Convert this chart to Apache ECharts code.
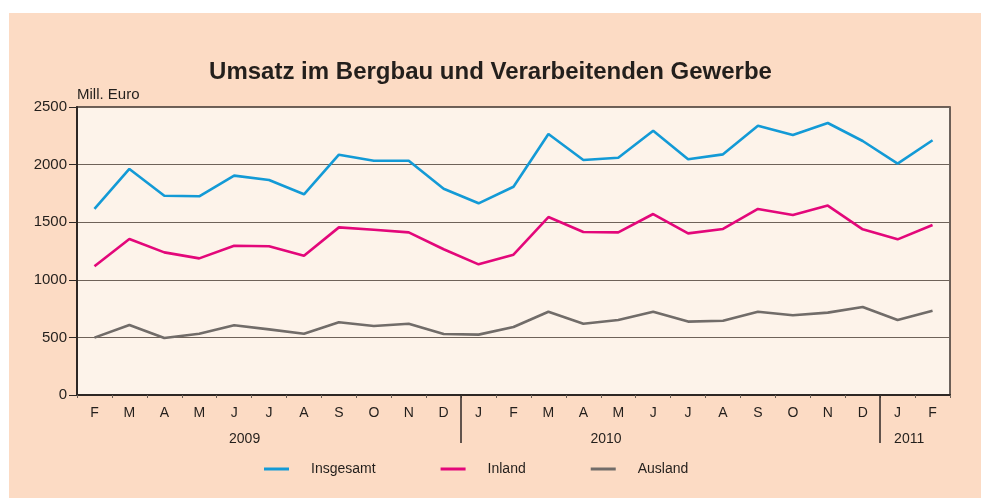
<!DOCTYPE html>
<html>
<head>
<meta charset="utf-8">
<script src="https://cdn.jsdelivr.net/npm/echarts@6/dist/echarts.min.js"></script>
<style>
  html, body { margin: 0; padding: 0; background: #fff; }
  #chart { width: 981px; height: 498px; }
</style>
</head>
<body>
<div id="chart"></div>
<script>
// Monate Feb 2009 bis Feb 2011
var months = ['F', 'M', 'A', 'M', 'J', 'J', 'A', 'S', 'O', 'N', 'D',
  'J', 'F', 'M', 'A', 'M', 'J', 'J', 'A', 'S', 'O', 'N', 'D',
  'J', 'F']
// Jahre, Lage der Beschriftung (in Monaten) und Jahreswechsel
var years = ['2009', '2010', '2011']
var yearLabelPos = [4.3, 14.65, 23.33]
var yearBreaks = [10.5, 22.5]
var yTicks = [0, 500, 1000, 1500, 2000, 2500]

// Mill. Euro
var insgesamt = [1615, 1962, 1730, 1725, 1904, 1866, 1742, 2086, 2034, 2034, 1791,
  1664, 1808, 2266, 2040, 2060, 2294, 2046, 2089, 2338, 2257, 2361, 2205,
  2008, 2211]
var inland = [1117, 1354, 1238, 1186, 1296, 1291, 1209, 1455, 1435, 1412, 1265,
  1134, 1218, 1545, 1415, 1412, 1571, 1403, 1441, 1615, 1563, 1644, 1438,
  1351, 1476]
var ausland = [498, 608, 495, 532, 605, 570, 532, 631, 599, 619, 530,
  524, 590, 723, 619, 651, 723, 637, 645, 723, 692, 715, 764,
  651, 732]

var textColor = '#231f1c'
var font = 'Liberation Sans'

var myChart = echarts.init(document.getElementById('chart'))
var option = {
  backgroundColor: 'transparent',
  textStyle: { fontFamily: font },
  graphic: [
    {
      type: 'rect',
      left: 9,
      top: 13,
      z: -10,
      shape: { width: 972, height: 485 },
      style: { fill: '#fcdbc4' },
    },
  ],
  title: {
    text: 'Umsatz im Bergbau und Verarbeitenden Gewerbe',
    left: 'center',
    top: 55,
    textStyle: {
      fontFamily: font,
      fontSize: 24,
      fontWeight: 'bold',
      color: textColor,
    },
  },
  legend: {
    left: 259,
    top: 457,
    icon: 'rect',
    itemWidth: 25,
    itemHeight: 3,
    itemGap: 65,
    textStyle: {
      fontFamily: font,
      fontSize: 14,
      color: textColor,
      padding: [0, 0, 0, 17],
    },
    data: ['Insgesamt', 'Inland', 'Ausland'],
  },
  grid: {
    left: 77,
    right: 31,
    top: 107,
    bottom: 103,
    show: true,
    backgroundColor: '#fdf3ea',
    borderColor: '#3c3430',
    borderWidth: 1.5,
  },
  xAxis: [
    {
      type: 'category',
      data: months,
      boundaryGap: true,
      axisLine: { show: true, onZero: false, lineStyle: { color: '#2e2724', width: 2 } },
      axisTick: {
        show: true,
        interval: 0,
        length: 3,
        lineStyle: { color: '#6b6058' },
      },
      axisLabel: {
        interval: 0,
        margin: 11,
        fontFamily: font,
        fontSize: 14,
        color: textColor,
      },
      splitLine: { show: false },
    },
    {
      // Jahre und Trennstriche
      type: 'value',
      position: 'bottom',
      min: -0.5,
      max: months.length - 0.5,
      axisLine: { show: false, onZero: false },
      axisTick: {
        show: true,
        length: 48,
        customValues: yearBreaks,
        lineStyle: { color: '#2e2724', width: 1.5 },
      },
      axisLabel: {
        margin: 37,
        customValues: yearLabelPos,
        fontFamily: font,
        fontSize: 14,
        color: textColor,
        formatter: function (value) {
          var i = yearLabelPos.indexOf(value)
          return i >= 0 ? years[i] : ''
        },
      },
      splitLine: { show: false },
    },
  ],
  yAxis: {
    type: 'value',
    min: yTicks[0],
    max: yTicks[yTicks.length - 1],
    interval: 500,
    name: 'Mill. Euro',
    nameLocation: 'end',
    nameGap: 5,
    nameTextStyle: {
      align: 'left',
      fontFamily: font,
      fontSize: 15,
      color: textColor,
    },
    axisLine: { show: true, onZero: false, lineStyle: { color: '#2e2724', width: 2 } },
    axisTick: { show: true, length: 8, lineStyle: { color: '#2e2724' } },
    axisLabel: {
      margin: 10,
      fontFamily: font,
      fontSize: 15,
      color: textColor,
      formatter: function (v) {
        return String(v)
      },
    },
    splitLine: { lineStyle: { color: '#6e6259', width: 1.2 } },
  },
  series: [
    {
      name: 'Insgesamt',
      type: 'line',
      data: insgesamt,
      symbol: 'none',
      color: '#139ad6',
      lineStyle: { width: 2.6 },
    },
    {
      name: 'Inland',
      type: 'line',
      data: inland,
      symbol: 'none',
      color: '#e3077a',
      lineStyle: { width: 2.6 },
    },
    {
      name: 'Ausland',
      type: 'line',
      data: ausland,
      symbol: 'none',
      color: '#716c69',
      lineStyle: { width: 2.6 },
    },
  ],
}
myChart.setOption(option, true)
</script>
</body>
</html>
